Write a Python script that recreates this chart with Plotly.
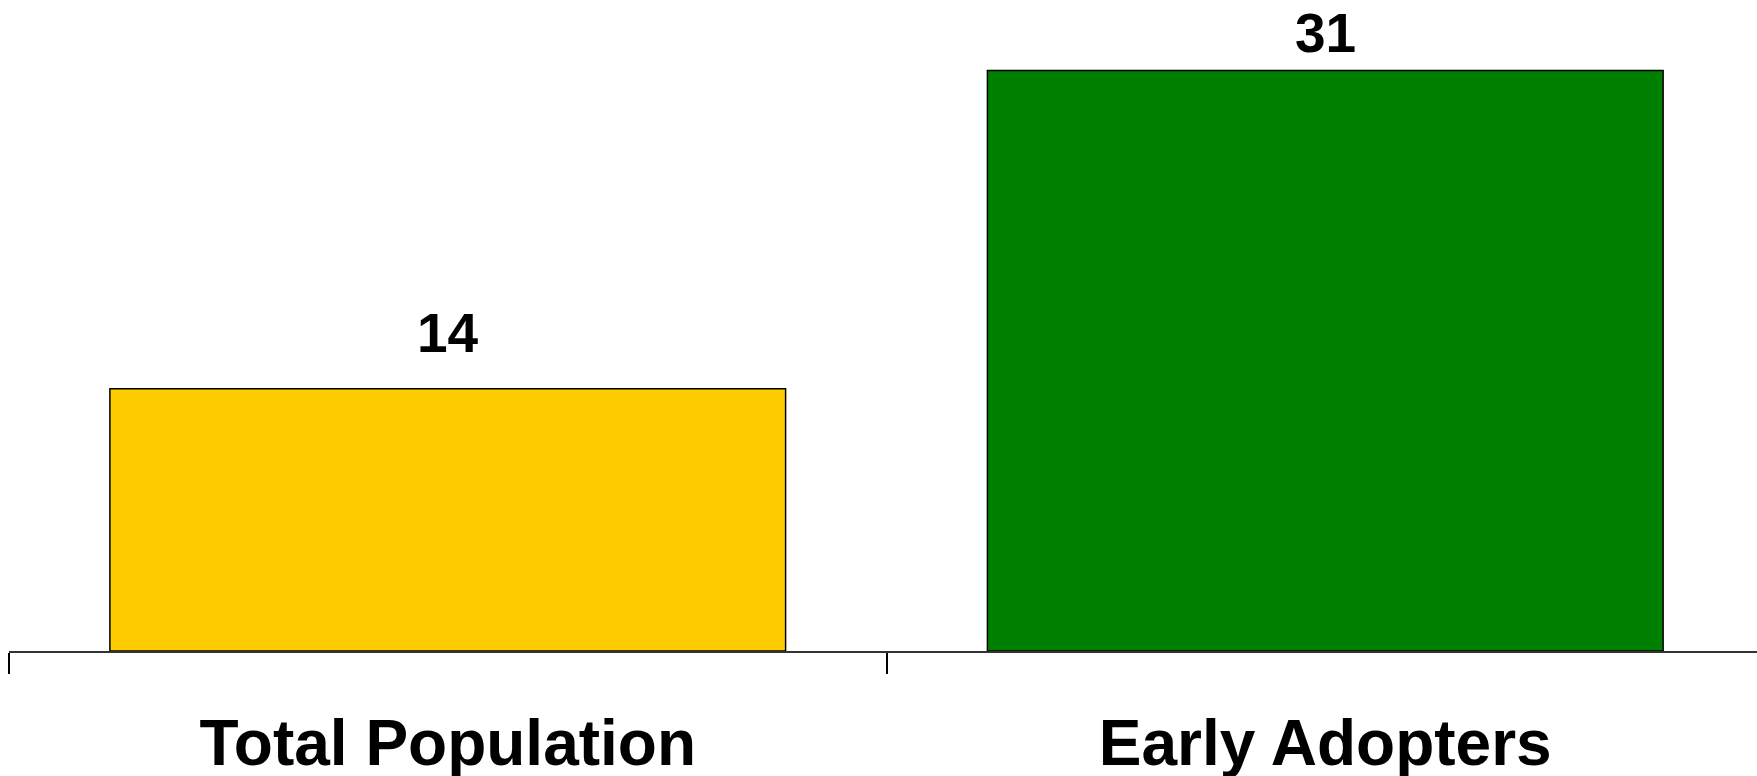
import plotly.graph_objects as go

categories = ["Total Population", "Early Adopters"]
values = [14, 31]
colors = ["#FFCC00", "#008000"]
label_shift = [56, 37]  # px above bar top for the value labels

fig = go.Figure()
fig.add_bar(
    x=categories,
    y=values,
    width=0.77,
    marker={"color": colors, "line": {"color": "black", "width": 1.5}},
    showlegend=False,
)

# value labels above the bars
for c, v, s in zip(categories, values, label_shift):
    fig.add_annotation(
        x=c, y=v, text="<b>%d</b>" % v, showarrow=False,
        yanchor="middle", yshift=s,
        font={"family": "Liberation Sans, Arial", "size": 55, "color": "black"},
    )

fig.update_layout(
    width=1757,
    height=776,
    margin={"l": 9, "r": 0, "t": 0, "b": 125},
    paper_bgcolor="white",
    plot_bgcolor="white",
    font={"family": "Liberation Sans, Arial", "color": "black"},
)
fig.update_xaxes(
    range=[-0.5, 1.492],
    automargin=False,
    showline=True, linecolor="#333333", linewidth=1.5,
    ticks="outside", tickson="boundaries", ticklen=21, tickwidth=1.5, tickcolor="black",
    tickfont={"size": 64, "family": "Liberation Sans, Arial", "weight": "bold"},
    ticklabelstandoff=35,
    showgrid=False,
)
fig.update_yaxes(range=[0, 34.76], visible=False, automargin=False,
                 showgrid=False, zeroline=False)

# drop the default 8px body margin so the figure fills the window
fig.write_html("out.html", config={"displayModeBar": False},
               post_script="document.body.style.margin='0';")
